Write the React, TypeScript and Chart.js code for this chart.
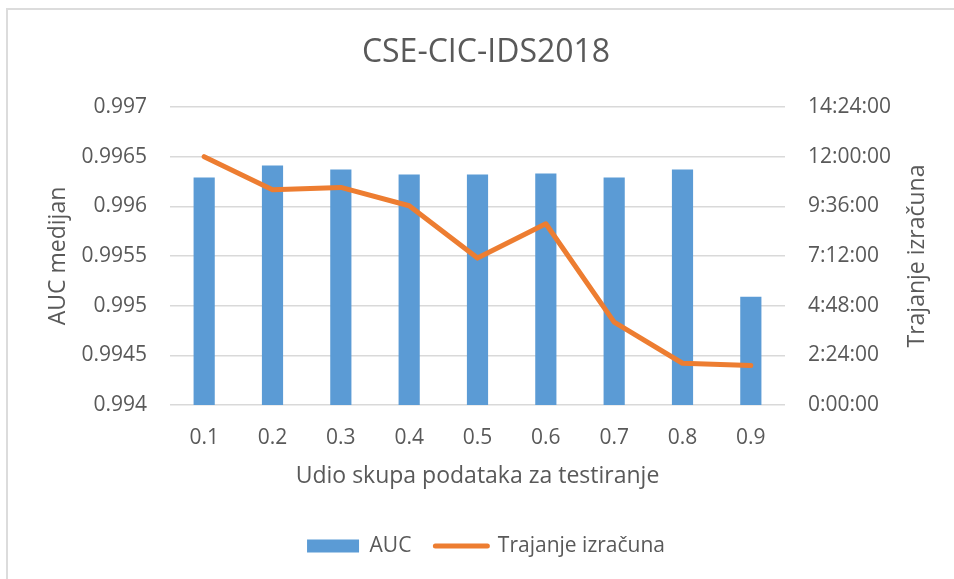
import React, { useEffect, useRef } from 'react';
import { Chart, registerables } from 'chart.js';

Chart.register(...registerables);

const categories = ['0.1', '0.2', '0.3', '0.4', '0.5', '0.6', '0.7', '0.8', '0.9'];
const aucValues = [0.99629, 0.99641, 0.99637, 0.99632, 0.99632, 0.99633, 0.99629, 0.99637, 0.99509];
const durationValues = ['12:00:00', '10:24:13', '10:30:57', '9:37:46', '7:05:55', '8:45:30', '4:00:06', '2:01:04', '1:54:12'];
const leftTickValues = [0.994, 0.9945, 0.995, 0.9955, 0.996, 0.9965, 0.997];
const leftTickLabels = ['0.994', '0.9945', '0.995', '0.9955', '0.996', '0.9965', '0.997'];
const rightTickLabels = ['0:00:00', '2:24:00', '4:48:00', '7:12:00', '9:36:00', '12:00:00', '14:24:00'];

const TITLE = 'CSE-CIC-IDS2018';
const X_TITLE = 'Udio skupa podataka za testiranje';
const Y_TITLE = 'AUC medijan';
const Y1_TITLE = 'Trajanje izračuna';
const SERIES_BAR = 'AUC';
const SERIES_LINE = 'Trajanje izračuna';

const toSeconds = (s: string) => {
  const [h, m, sec] = s.split(':').map(Number);
  return h * 3600 + m * 60 + sec;
};

const FONT = '"Open Sans", "Noto Sans", sans-serif';
const TEXT = '#595959';
const BLUE = '#5B9BD5';
const ORANGE = '#ED7D31';
const GRID = '#d9d9d9';

const rightTitlePlugin = {
  id: 'rightTitle',
  afterDraw(chart: any) {
    const { ctx, chartArea } = chart;
    const scale = chart.scales.y1;
    ctx.save();
    ctx.translate(scale.right - 25, (chartArea.top + chartArea.bottom) / 2);
    ctx.rotate(-Math.PI / 2);
    ctx.font = `23px ${FONT}`;
    ctx.fillStyle = TEXT;
    ctx.textAlign = 'center';
    ctx.textBaseline = 'middle';
    ctx.fillText(Y1_TITLE, 0, 0);
    ctx.restore();
  },
};

export default function App() {
  const ref = useRef<HTMLCanvasElement>(null);

  useEffect(() => {
    if (!ref.current) return;
    const rightTickValues = rightTickLabels.map(toSeconds);
    const chart = new Chart(ref.current, {
      type: 'bar',
      data: {
        labels: categories,
        datasets: [
          {
            type: 'line',
            label: SERIES_LINE,
            data: durationValues.map(toSeconds),
            yAxisID: 'y1',
            borderColor: ORANGE,
            backgroundColor: ORANGE,
            borderWidth: 5,
            pointRadius: 0,
            pointHoverRadius: 0,
            tension: 0,
            borderJoinStyle: 'round',
            borderCapStyle: 'round',
            order: 0,
          } as any,
          {
            type: 'bar',
            label: SERIES_BAR,
            data: aucValues,
            yAxisID: 'y',
            backgroundColor: BLUE,
            borderWidth: 0,
            barPercentage: 0.31,
            categoryPercentage: 1,
            order: 1,
          } as any,
        ],
      },
      options: {
        animation: false,
        responsive: false,
        devicePixelRatio: 1,
        layout: { padding: { left: 30, right: 12, top: 0, bottom: 12.5 } },
        plugins: {
          tooltip: { enabled: false },
          title: {
            display: true,
            text: TITLE,
            color: TEXT,
            font: { family: FONT, size: 32, weight: 'normal' },
            padding: { top: 33.4, bottom: 35.2 },
          },
          legend: {
            position: 'bottom',
            labels: {
              usePointStyle: true,
              pointStyleWidth: 52,
              boxHeight: 13,
              padding: 24,
              color: TEXT,
              font: { family: FONT, size: 21 },
              sort: (a: any, b: any) => b.datasetIndex - a.datasetIndex,
              generateLabels: (c: any) => {
                const items = Chart.defaults.plugins.legend.labels.generateLabels(c);
                items.forEach((it: any) => {
                  if (it.datasetIndex === 1) {
                    it.pointStyle = 'rect';
                    it.lineWidth = 0;
                    it.fillStyle = BLUE;
                  } else {
                    it.pointStyle = 'line';
                    it.lineWidth = 5;
                    it.strokeStyle = ORANGE;
                    it.lineCap = 'round';
                  }
                });
                return items;
              },
            },
          },
        },
        scales: {
          x: {
            grid: { display: false, drawTicks: false },
            border: { display: false },
            ticks: { color: TEXT, font: { family: FONT, size: 21 }, padding: 20 },
            title: {
              display: true,
              text: X_TITLE,
              color: TEXT,
              font: { family: FONT, size: 23 },
              padding: { top: 0, bottom: 21.7 },
            },
            afterFit: (s: any) => { s.height = 106.5; },
          },
          y: {
            position: 'left',
            min: 0.994,
            max: 0.997,
            grid: { color: GRID, lineWidth: 1.5, drawTicks: false },
            border: { display: false },
            afterBuildTicks: (s: any) => { s.ticks = leftTickValues.map((v) => ({ value: v })); },
            ticks: {
              color: TEXT,
              font: { family: FONT, size: 21 },
              padding: 23,
              callback: (_v: any, i: number) => leftTickLabels[i],
            },
            title: {
              display: true,
              text: Y_TITLE,
              color: TEXT,
              font: { family: FONT, size: 23 },
              padding: { top: 14.2, bottom: 0 },
            },
            afterFit: (s: any) => { s.width = 140; },
          },
          y1: {
            position: 'right',
            min: 0,
            max: 51840,
            grid: { display: false, drawTicks: false },
            border: { display: false },
            afterBuildTicks: (s: any) => { s.ticks = rightTickValues.map((v) => ({ value: v })); },
            ticks: {
              color: TEXT,
              font: { family: FONT, size: 21 },
              padding: 23,
              callback: (_v: any, i: number) => rightTickLabels[i],
            },
            afterFit: (s: any) => { s.width = 157; },
          },
        },
      } as any,
      plugins: [rightTitlePlugin],
    });
    return () => chart.destroy();
  }, []);

  return (
    <div style={{ position: 'fixed', left: 0, top: 0, width: 954, height: 579, overflow: 'hidden', background: '#fff' }}>
      <div
        style={{
          position: 'absolute',
          left: 6,
          top: 8,
          width: 1000,
          height: 700,
          border: '2px solid #dcdcdc',
          boxSizing: 'border-box',
        }}
      />
      <canvas ref={ref} width={954} height={579} style={{ position: 'absolute', left: 0, top: 0 }} />
    </div>
  );
}
